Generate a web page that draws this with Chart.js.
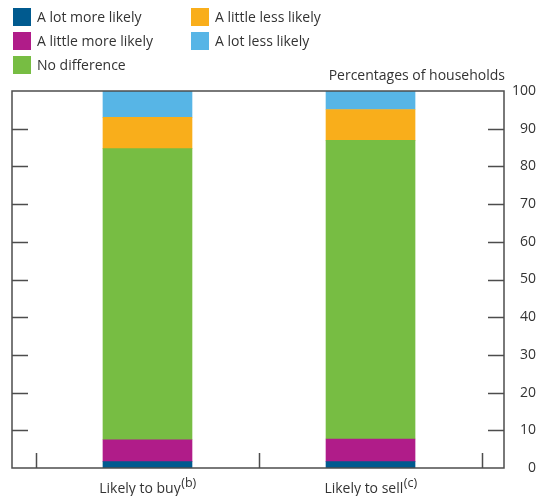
<!DOCTYPE html>
<html>
<head>
<meta charset="utf-8">
<script src="https://cdn.jsdelivr.net/npm/chart.js@4"></script>
<style>
  html, body { margin: 0; padding: 0; background: #ffffff; }
  #wrap { width: 539px; height: 496px; position: relative; }
</style>
</head>
<body>
<div id="wrap"><canvas id="c" width="539" height="496"></canvas></div>
<script>
// Survey responses, percentages of households
const categories = ['Likely to buy', 'Likely to sell'];
const categoryNotes = ['(b)', '(c)'];
const seriesNames = ['A lot more likely', 'A little more likely', 'No difference', 'A little less likely', 'A lot less likely'];
const lotMoreLikely = [1.7, 1.7];
const littleMoreLikely = [5.8, 6.0];
const noDifference = [77.2, 79.2];
const littleLessLikely = [8.3, 8.2];
const lotLessLikely = [7.0, 4.9];
const yTickValues = [0, 10, 20, 30, 40, 50, 60, 70, 80, 90, 100];
const seriesColors = ['#005a8f', '#b01c89', '#77bd43', '#f9ae1b', '#57b5e6'];

const FONT = '"Open Sans", "DejaVu Sans", sans-serif';
const FONT_SIZE = 14;
const TEXT = '#333333';
const FRAME = '#4d4d4d';

// Each category sits midway between two divider ticks on the x axis
const slot = i => 2 * i + 1;
const seriesValues = [lotMoreLikely, littleMoreLikely, noDifference, littleLessLikely, lotLessLikely];

const datasets = seriesNames.map((name, k) => ({
  label: name,
  data: categories.map((c, i) => ({ x: slot(i), y: seriesValues[k][i] })),
  backgroundColor: seriesColors[k],
  borderWidth: 0,
  barThickness: 89
}));

// Frame, inward tick marks, legend, axis caption and category labels
const decorations = {
  id: 'decorations',
  afterDatasetsDraw(chart) {
    const { ctx, chartArea: a, scales: { x, y } } = chart;
    ctx.save();
    ctx.strokeStyle = FRAME;
    ctx.lineWidth = 1.5;
    ctx.beginPath();
    yTickValues.slice(1, -1).forEach(v => {
      const py = Math.round(y.getPixelForValue(v)) + 0.5;
      ctx.moveTo(a.left, py); ctx.lineTo(a.left + 16, py);
      ctx.moveTo(a.right - 16, py); ctx.lineTo(a.right, py);
    });
    for (let t = 0; t <= 2 * categories.length; t += 2) {
      const px = Math.round(x.getPixelForValue(t)) + 0.5;
      ctx.moveTo(px, a.bottom); ctx.lineTo(px, a.bottom - 15);
    }
    ctx.stroke();
    ctx.strokeRect(a.left, a.top, a.right - a.left, a.bottom - a.top);

    const mainFont = FONT_SIZE + 'px ' + FONT;
    const noteFont = '12.5px ' + FONT;

    // category labels with note markers
    ctx.fillStyle = TEXT;
    ctx.textBaseline = 'alphabetic';
    ctx.textAlign = 'left';
    categories.forEach((c, i) => {
      ctx.font = mainFont;
      const w1 = ctx.measureText(c).width;
      ctx.font = noteFont;
      const w2 = ctx.measureText(categoryNotes[i]).width;
      const cx = x.getPixelForValue(slot(i));
      const x0 = cx - (w1 + w2) / 2;
      const base = a.bottom + 25;
      ctx.font = mainFont;
      ctx.fillText(c, x0, base);
      ctx.font = noteFont;
      ctx.fillText(categoryNotes[i], x0 + w1 + 0.5, base - 6);
    });

    // axis caption
    ctx.font = mainFont;
    ctx.textAlign = 'right';
    ctx.textBaseline = 'middle';
    ctx.fillText('Percentages of households', a.right + 1, a.top - 15);

    // legend in two columns
    const colX = [13, 191];
    const rowY = [8, 32, 56];
    ctx.textAlign = 'left';
    chart.data.datasets.forEach((ds, k) => {
      const col = Math.floor(k / 3), row = k % 3;
      const bx = colX[col], by = rowY[row];
      ctx.fillStyle = ds.backgroundColor;
      ctx.fillRect(bx, by, 18, 18);
      ctx.fillStyle = TEXT;
      ctx.fillText(ds.label, bx + 24, by + 10);
    });
    ctx.restore();
  }
};

new Chart(document.getElementById('c'), {
  type: 'bar',
  data: { datasets },
  options: {
    responsive: false,
    animation: false,
    devicePixelRatio: 1,
    layout: { padding: { top: 91, left: 12, right: 3, bottom: 28 } },
    plugins: { legend: { display: false }, tooltip: { enabled: false } },
    scales: {
      x: {
        type: 'linear',
        stacked: true,
        offset: false,
        min: -0.215,
        max: 4.197,
        grid: { display: false },
        border: { display: false },
        ticks: { display: false },
        afterFit: s => { s.height = 0; }
      },
      y: {
        position: 'right',
        stacked: true,
        min: 0,
        max: 100,
        afterBuildTicks: s => { s.ticks = yTickValues.map(v => ({ value: v })); },
        afterFit: s => { s.width = 32; },
        grid: { display: false },
        border: { display: false },
        ticks: {
          padding: 8,
          crossAlign: 'far',
          color: TEXT,
          font: { family: FONT, size: FONT_SIZE }
        }
      }
    }
  },
  plugins: [decorations]
});
</script>
</body>
</html>
